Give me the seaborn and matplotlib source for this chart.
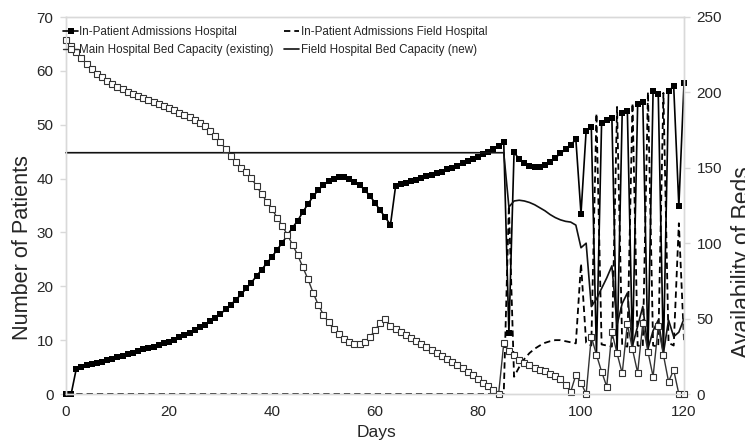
import matplotlib
matplotlib.use("Agg")
import matplotlib.pyplot as plt
import pandas as pd
import seaborn as sns

days = list(range(121))

adm_hospital = [
    0, 0, 4.7, 5.0, 5.3, 5.5, 5.8, 6.0, 6.3, 6.5,
    6.8, 7.1, 7.4, 7.7, 8.0, 8.3, 8.5, 8.8, 9.1, 9.4,
    9.7, 10.1, 10.5, 10.9, 11.4, 11.9, 12.4, 12.9, 13.5, 14.2,
    14.9, 15.7, 16.6, 17.5, 18.5, 19.6, 20.7, 21.9, 23.1, 24.3,
    25.5, 26.8, 28.1, 29.5, 30.9, 32.2, 33.8, 35.3, 36.7, 37.9,
    38.8, 39.5, 39.9, 40.2, 40.2, 39.9, 39.4, 38.8, 37.9, 36.8,
    35.5, 34.1, 32.8, 31.4, 38.6, 38.9, 39.2, 39.5, 39.8, 40.1,
    40.4, 40.7, 41.0, 41.3, 41.7, 42.0, 42.4, 42.8, 43.2, 43.6,
    44.0, 44.5, 45.0, 45.5, 46.1, 46.7, 11.3, 44.9, 43.6, 42.9,
    42.4, 42.2, 42.2, 42.5, 43.0, 43.8, 44.7, 45.4, 46.2, 47.3,
    33.5, 48.9, 49.5, 7.3, 50.4, 50.9, 51.2, 7.6, 52.2, 52.6,
    8.3, 53.8, 54.3, 7.8, 56.3, 55.7, 7.3, 56.3, 57.1, 34.9,
    57.7,
]

adm_field = [0] * 86 + [
    35.0, 3.2, 5.0, 6.5, 7.6, 8.4, 9.0, 9.5, 9.8, 10.0,
    10.0, 9.8, 9.6, 9.4, 24.2, 9.5, 9.0, 52.1, 9.2, 9.0,
    8.8, 53.3, 9.0, 8.8, 54.0, 9.0, 8.8, 56.1, 9.0, 8.8,
    55.9, 9.5, 9.0, 31.7, 10.0,
]

bed_main = [
    234.5, 230.5, 226.5, 222.5, 219, 215.5, 212.5, 210, 207.5, 205.5,
    203.5, 202, 200.5, 199, 197.5, 196.5, 195, 193.5, 192.5, 191,
    189.5, 188, 186.5, 185, 183.5, 182, 180, 177.5, 174.5, 171,
    167, 162.5, 158, 154, 150, 147, 143, 138, 132.5, 127.5,
    122.5, 117, 111.5, 105.5, 99, 92, 84, 76, 67, 59,
    52.5, 47.5, 43, 39.5, 36.5, 34.5, 33.2, 33.2, 34.5, 37.5,
    42.5, 47, 50, 45, 43, 41, 39, 37, 35, 33,
    31, 29, 27, 25, 23, 21.5, 19.5, 17, 14.5, 12.5,
    10, 7.5, 5, 2.5, 0, 33.6, 28.7, 25.9, 22.5, 20.5,
    19, 17.5, 16, 15, 13.5, 12, 10, 6, 1.5, 12.6,
    7.5, 0, 38, 26, 14.8, 4.9, 41, 27, 13.7, 46.4,
    29.6, 14.1, 46.9, 28, 11.5, 45, 26, 8.2, 15.9, 0,
    0,
]

bed_field = [160] * 86 + [
    124, 128, 128.5, 128, 127, 125.5, 123.5, 121.5, 119, 117,
    115.5, 114.5, 114, 112, 97, 100, 58, 63, 70, 77,
    85, 46, 60, 67, 32, 45, 58, 30, 42, 49,
    27, 49, 38, 41, 50,
]

labels = [
    "In-Patient Admissions Hospital",
    "In-Patient Admissions Field Hospital",
    "Main Hospital Bed Capacity (existing)",
    "Field Hospital Bed Capacity (new)",
]

df = pd.DataFrame({
    "day": days,
    "adm_hospital": adm_hospital,
    "adm_field": adm_field,
    "bed_main": bed_main,
    "bed_field": bed_field,
})

sns.set_style("white")
plt.rcParams["font.family"] = ["Liberation Sans", "DejaVu Sans"]

W, H = 745, 441
fig = plt.figure(figsize=(W / 100, H / 100), dpi=100)
L, R, T, B = 66, 684, 17, 394
ax = fig.add_axes([L / W, 1 - B / H, (R - L) / W, (B - T) / H])
ax2 = ax.twinx()

sns.lineplot(data=df, x="day", y="adm_field", ax=ax, color="black",
             lw=1.3, linestyle=(0, (3.5, 2.2)), legend=False, clip_on=False)
sns.lineplot(data=df, x="day", y="adm_hospital", ax=ax, color="black",
             lw=1.2, marker="s", markersize=3.8, markeredgewidth=0,
             legend=False, clip_on=False)
sns.lineplot(data=df, x="day", y="bed_field", ax=ax2, color="#111111",
             lw=1.2, legend=False, clip_on=False)
sns.lineplot(data=df, x="day", y="bed_main", ax=ax2, color="#333333",
             lw=1.0, marker="s", markersize=4.4, markerfacecolor="white",
             markeredgecolor="#333333", markeredgewidth=0.8, legend=False,
             clip_on=False)

ax.set_xlim(0, 120)
ax.set_ylim(0, 70)
ax2.set_ylim(0, 250)
ax.set_xticks(range(0, 121, 20))
ax.set_yticks(range(0, 71, 10))
ax2.set_yticks(range(0, 251, 50))
ax.set_xlabel("")
ax.set_ylabel("")
ax2.set_ylabel("")

for a in (ax, ax2):
    for s in a.spines.values():
        s.set_color("#d9d9d9")
        s.set_linewidth(1.0)
ax.tick_params(axis="y", which="both", left=True, length=4, width=1,
               color="#d9d9d9", labelsize=11, labelcolor="#262626", pad=5)
ax.tick_params(axis="x", length=0, labelsize=11, labelcolor="#262626", pad=8)
ax2.tick_params(axis="y", right=True, length=4, width=1, color="#d9d9d9",
                labelsize=11, labelcolor="#262626", pad=5)

fig.text(23 / W, 1 - 248 / H, "Number of Patients", rotation=90,
         ha="center", va="center", fontsize=15.6, color="#262626")
fig.text(743 / W, 1 - 262 / H, "Availability of Beds", rotation=90,
         ha="center", va="center", fontsize=16.5, color="#262626")
fig.text(377 / W, 1 - 433 / H, "Days", ha="center", va="center",
         fontsize=12.5, color="#262626")

l_a, l_b = ax.get_lines()[1], ax.get_lines()[0]
l_d, l_c = ax2.get_lines()[0], ax2.get_lines()[1]
leg = ax2.legend([l_a, l_c, l_b, l_d], [labels[0], labels[2], labels[1], labels[3]],
                 ncol=2, loc="upper left",
                 bbox_to_anchor=((63 - L) / (R - L), (B - 26) / (B - T)),
                 frameon=False, fontsize=8.4,
                 handlelength=1.3, handletextpad=0.1, columnspacing=0.9,
                 labelspacing=0.5, borderaxespad=0.0, borderpad=0.0)
for t in leg.get_texts():
    t.set_color("#262626")

fig.savefig("out.png", dpi=100)
